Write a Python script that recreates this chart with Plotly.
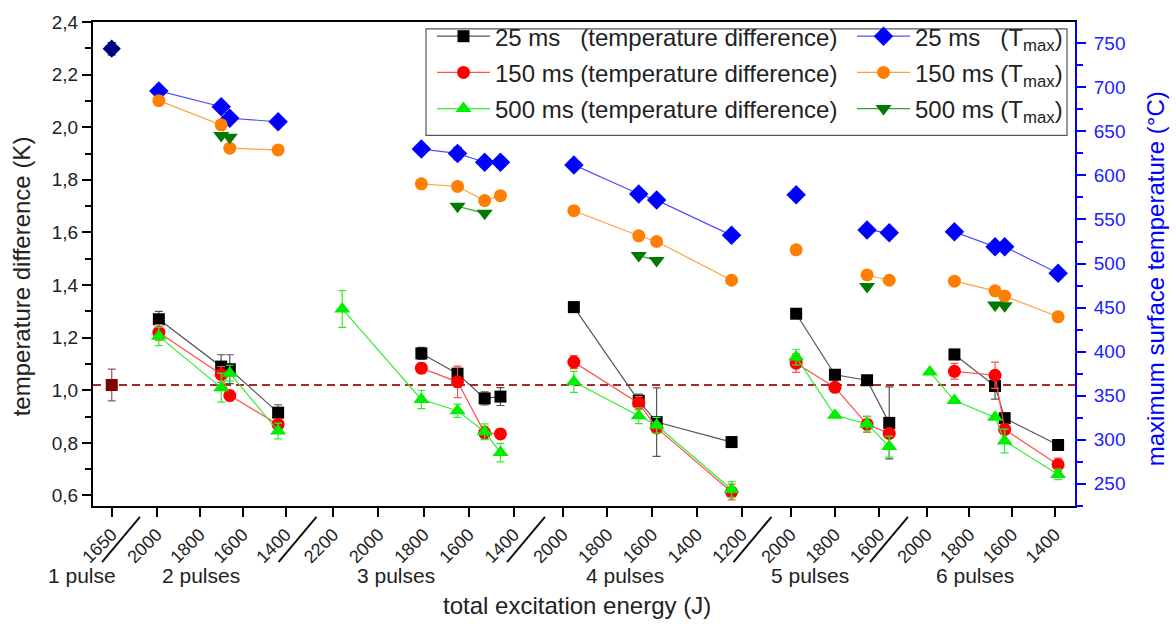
import plotly.graph_objects as go

FONT = "Liberation Sans, Arial, sans-serif"

# ---------------- data ----------------
pulse_labels = ["1 pulse", "2 pulses", "3 pulses", "4 pulses", "5 pulses", "6 pulses"]

# 1 pulse (reference)
energy_1p = [1650]
dT_1p = [1.02]
dT_1p_err = [0.06]
tmax_1p = [744]
tmax_1p_err = [7]

# 2 ... 6 pulses : total excitation energy (J)
energy = [
    [1990, 1700, 1660, 1435],
    [2160, 1810, 1650, 1530, 1460],
    [1950, 1660, 1580, 1245],
    [1975, 1800, 1655, 1555],
    [1985, 1870, 1680, 1635, 1385],
]

# temperature difference (K)
dT_25 = [
    [1.27, 1.09, 1.08, 0.915],
    [None, 1.14, 1.063, 0.969, 0.976],
    [1.316, 0.96, 0.879, 0.803],
    [1.291, 1.059, 1.038, 0.876],
    [None, 1.136, 1.016, 0.894, 0.792],
]
dT_25_err = [
    [0.03, 0.045, 0.055, 0.03],
    [0, 0.023, 0.02, 0.025, 0.034],
    [0.02, 0.025, 0.13, 0.02],
    [0, 0.02, 0, 0.137],
    [0, 0.02, 0.05, 0, 0],
]
dT_150 = [
    [1.22, 1.06, 0.98, 0.87],
    [None, 1.084, 1.032, 0.838, 0.834],
    [1.107, 0.951, 0.857, 0.613],
    [1.103, 1.011, 0.870, 0.836],
    [None, 1.072, 1.057, 0.851, 0.717],
]
dT_150_err = [
    [0.03, 0.03, 0.02, 0.02],
    [0, 0.02, 0.06, 0.025, 0],
    [0.025, 0.025, 0.02, 0.03],
    [0.035, 0, 0.03, 0],
    [0, 0.03, 0.05, 0.02, 0.025],
]
dT_500 = [
    [1.205, 1.01, 1.065, 0.845],
    [1.309, 0.965, 0.922, 0.842, 0.763],
    [1.032, 0.903, 0.867, 0.623],
    [1.126, 0.905, 0.872, 0.786],
    [1.069, 0.961, 0.897, 0.807, 0.68],
]
dT_500_err = [
    [0.035, 0.055, 0.03, 0.03],
    [0.07, 0.035, 0.025, 0.03, 0.035],
    [0.04, 0.03, 0.03, 0.03],
    [0.03, 0, 0.03, 0.04],
    [0, 0, 0, 0.045, 0.02],
]

# maximum surface temperature (°C)
tmax_25 = [
    [696, 678, 665, 661],
    [None, 630, 625, 615, 615],
    [612, 579, 572, 532],
    [578, None, 538, 535],
    [None, 536, 519, 519, 489],
]
tmax_25_err = [
    [0, 0, 0, 0],
    [0, 0, 7, 0, 0],
    [0, 0, 0, 0],
    [0, 0, 0, 0],
    [0, 0, 0, 0, 0],
]
tmax_150 = [
    [685, 657.5, 631, 629],
    [None, 590.5, 587.5, 571.5, 577],
    [560, 531.5, 525, 481],
    [515.5, None, 487, 481],
    [None, 480, 469, 463, 439.5],
]
tmax_500 = [
    [None, 645.5, 643.5, None],
    [None, None, 565, 557, None],
    [None, 509, 503.5, None],
    [None, None, 474, None],
    [None, None, 453, 452, None],
]

# ---------------- layout helpers (styling) ----------------
W, H = 1176, 624
ML, MR, MT, MB = 93, 101, 15, 118
PW, PH = W - ML - MR, H - MT - MB

def px_x(p):
    return (p - ML) / PW

def px_y(p):
    return (H - MB - p) / PH

bounds_px = [93, 121, 297.5, 526, 752.5, 895, 1075]
slash_px = [121, 297.5, 526, 752.5, 889]
domains = [[px_x(bounds_px[i]), px_x(bounds_px[i + 1])] for i in range(6)]
x_ranges = [[1735, 1608], [2166, 1345], [2358, 1347], [2164, 1151.5], [2172, 1529], [2148, 1306]]

fig = go.Figure()

def xname(k):
    return "x" if k == 0 else f"x{k + 1}"

# 1 pulse
fig.add_trace(go.Scatter(
    x=energy_1p, y=dT_1p, xaxis="x", yaxis="y", mode="markers",
    marker=dict(symbol="square", size=12, color="#7f0000"),
    error_y=dict(type="data", array=dT_1p_err, color="#a05050", thickness=1.2, width=4),
    showlegend=False, cliponaxis=False))
fig.add_trace(go.Scatter(
    x=energy_1p, y=tmax_1p, xaxis="x", yaxis="y2", mode="markers",
    marker=dict(symbol="diamond", size=14, color="#000080"),
    error_y=dict(type="data", array=tmax_1p_err, color="#000080", thickness=1.2, width=4),
    showlegend=False, cliponaxis=False))

NB = "\u00a0"
series = [
    # values, errors, yaxis, name, symbol, size, marker colour, line colour, err colour, legend
    (tmax_25, tmax_25_err, "y2", f"25 ms{NB*3}(T<sub>max</sub>)", "diamond", 15, "#0000ff", "#5050ff", "#0000ff", "legend2"),
    (tmax_150, None, "y2", f"150 ms{NB}(T<sub>max</sub>)", "circle", 13, "#ff8000", "#ffa040", "#ff8000", "legend2"),
    (tmax_500, None, "y2", f"500 ms{NB}(T<sub>max</sub>)", "triangle-down", 14, "#007a00", "#30a030", "#007a00", "legend2"),
    (dT_25, dT_25_err, "y", f"25 ms{NB*3}(temperature difference)", "square", 12, "#000000", "#555555", "#555555", "legend"),
    (dT_150, dT_150_err, "y", f"150 ms{NB}(temperature difference)", "circle", 13, "#ff0000", "#ff5050", "#ff5050", "legend"),
    (dT_500, dT_500_err, "y", f"500 ms{NB}(temperature difference)", "triangle-up", 14, "#00ee00", "#30ee30", "#30ee30", "legend"),
]

for gi, (vals, errs, yax, name, sym, size, mcol, lcol, ecol, leg) in enumerate(series):
    for s in range(5):
        err = None
        if errs is not None:
            err = dict(type="data", array=errs[s], color=ecol, thickness=1.2, width=4)
        fig.add_trace(go.Scatter(
            x=energy[s], y=vals[s], xaxis=xname(s + 1), yaxis=yax,
            mode="lines+markers", name=name, legend=leg,
            legendgroup=f"g{gi}", showlegend=(s == 0),
            line=dict(color=lcol, width=1.2),
            marker=dict(symbol=sym, size=size, color=mcol, line=dict(width=0)),
            error_y=err, connectgaps=False, cliponaxis=False))

layout = dict(
    width=W, height=H,
    margin=dict(l=ML, r=MR, t=MT, b=MB, pad=0),
    paper_bgcolor="white", plot_bgcolor="white",
    separators=", ",
    font=dict(family=FONT, color="#222222"),
    yaxis=dict(
        domain=[0, 1], range=[0.56, 2.4], anchor="x", side="left",
        showline=True, linecolor="#000", linewidth=2,
        ticks="outside", ticklen=9, tickwidth=1.5, tickcolor="#000",
        tick0=0, dtick=0.2, tickformat=".1f",
        tickfont=dict(size=19, family=FONT, color="#222"),
        minor=dict(ticks="outside", ticklen=6, tickwidth=1.5, tickcolor="#000", dtick=0.1, showgrid=False),
        showgrid=False, zeroline=False),
    yaxis2=dict(
        overlaying="y", side="right", anchor="x6", range=[224.6, 774.3],
        showline=True, linecolor="#0000ff", linewidth=2,
        ticks="outside", ticklen=9, tickwidth=1.5, tickcolor="#0000ff",
        tick0=0, dtick=50, ticklabelstandoff=4,
        tickfont=dict(size=19, family=FONT, color="#2020ff"),
        minor=dict(ticks="outside", ticklen=6, tickwidth=1.5, tickcolor="#0000ff", dtick=25, showgrid=False),
        showgrid=False, zeroline=False),
    legend=dict(x=px_x(432), y=px_y(7), xanchor="left", yanchor="top",
                bgcolor="rgba(0,0,0,0)", borderwidth=0, itemwidth=53,
                tracegroupgap=2, traceorder="grouped",
                font=dict(size=24, family=FONT, color="#222")),
    legend2=dict(x=px_x(852), y=px_y(7), xanchor="left", yanchor="top",
                 bgcolor="rgba(0,0,0,0)", borderwidth=0, itemwidth=53,
                 tracegroupgap=2, traceorder="grouped",
                 font=dict(size=24, family=FONT, color="#222")),
    showlegend=True,
)

for k in range(6):
    ax = dict(
        domain=domains[k], range=x_ranges[k], anchor="y",
        showline=True, linecolor="#000", linewidth=2, mirror=True,
        ticks="outside", ticklen=9, tickwidth=1.5, tickcolor="#000",
        tickangle=-45, tickformat="d",
        tickfont=dict(size=18, family=FONT, color="#222"),
        showgrid=False, zeroline=False)
    if k == 0:
        ax.update(tickmode="array", tickvals=energy_1p)
    else:
        ax.update(tick0=0, dtick=200)
    layout["xaxis" if k == 0 else f"xaxis{k + 1}"] = ax

fig.update_layout(**layout)

# legend frame
fig.add_shape(type="rect", xref="paper", yref="paper",
              x0=px_x(426), x1=px_x(1067), y0=px_y(130), y1=px_y(22),
              line=dict(color="#555", width=1.2), fillcolor="rgba(255,255,255,0)", layer="above")

# reference (1 pulse) dashed line
fig.add_shape(type="line", xref="paper", yref="y", x0=0, x1=1, y0=dT_1p[0], y1=dT_1p[0],
              line=dict(color="#a52a2a", width=2, dash="8px,5px"), layer="below")

# axis break marks
for c in slash_px:
    fig.add_shape(type="line", xref="paper", yref="paper",
                  x0=px_x(c - 19), y0=px_y(563), x1=px_x(c + 19), y1=px_y(517),
                  line=dict(color="#111", width=2))

# segment labels
label_px = [82, 201, 396, 625, 810, 975]
for lab, cx in zip(pulse_labels, label_px):
    fig.add_annotation(text=lab, xref="paper", yref="paper", x=px_x(cx), y=px_y(577),
                       showarrow=False, xanchor="center", yanchor="middle",
                       font=dict(size=21, family=FONT, color="#222"))

# axis titles
fig.add_annotation(text="total excitation energy (J)", xref="paper", yref="paper",
                   x=px_x(577), y=px_y(607), showarrow=False, xanchor="center", yanchor="middle",
                   font=dict(size=24, family=FONT, color="#222"))
fig.add_annotation(text="temperature difference (K)", xref="paper", yref="paper",
                   x=px_x(21), y=px_y(273), showarrow=False, textangle=-90,
                   xanchor="center", yanchor="middle",
                   font=dict(size=24, family=FONT, color="#222"))
fig.add_annotation(text="maximum surface temperature (°C)", xref="paper", yref="paper",
                   x=px_x(1155), y=px_y(276), showarrow=False, textangle=-90,
                   xanchor="center", yanchor="middle",
                   font=dict(size=24, family=FONT, color="#0000ff"))

fig.write_html("out.html")
